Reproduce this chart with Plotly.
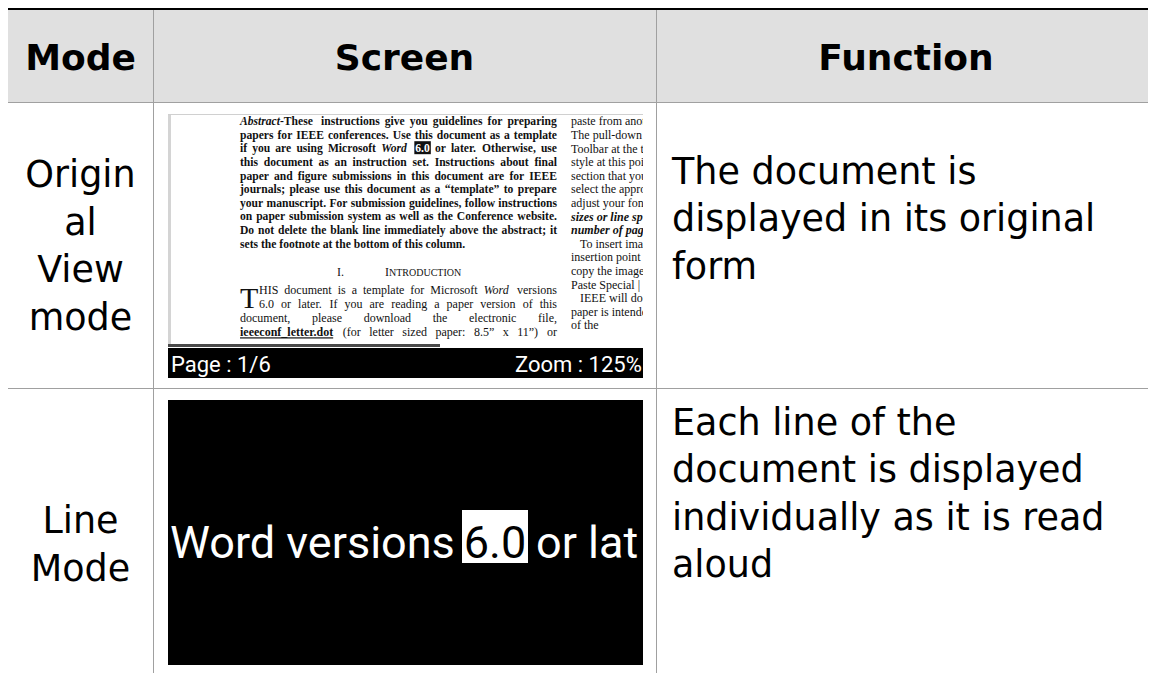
import re
import plotly.graph_objects as go

W, H = 1156, 673
OFF = 8  # page body margin: screen coordinates below are measured from the window corner

# ---------------- table content ----------------
headers = ["Mode", "Screen", "Function"]
mode_cells = [["Origin", "al", "View", "mode"], ["Line", "Mode"]]
function_cells = [
    ["The document is", "displayed in its original", "form"],
    ["Each line of the", "document is displayed", "individually as it is read", "aloud"],
]

# ---------------- screenshot 1 : original view ----------------
abstract_lines = [
    "<i>Abstract</i>-These instructions give you guidelines for preparing",
    "papers for IEEE conferences. Use this document as a template",
    "if you are using Microsoft <i>Word</i> 6.0 or later. Otherwise, use",
    "this document as an instruction set. Instructions about final",
    "paper and figure submissions in this document are for IEEE",
    "journals; please use this document as a \u201ctemplate\u201d to prepare",
    "your manuscript. For submission guidelines, follow instructions",
    "on paper submission system as well as the Conference website.",
    "Do not delete the blank line immediately above the abstract; it",
    "sets the footnote at the bottom of this column.",
]
abstract_highlight = "6.0"
heading_number = "I."
heading_title = ["I", "NTRODUCTION"]
drop_cap = "T"
body_lines = [
    "HIS document is a template for Microsoft <i>Word</i> versions",
    "6.0 or later. If you are reading a paper version of this",
    "document, please download the electronic file,",
    "<b><u>ieeeconf_letter.dot</u></b> (for letter sized paper: 8.5\u201d x 11\u201d) or",
]
# second page column, cut off by the right edge of the screen
col2_lines = [
    "paste from another document, you may",
    "The pull-down style menu is at the left",
    "Toolbar at the top of your Word window",
    "style at this point in the document is",
    "section that you want to designate with",
    "select the appropriate name on the style",
    "adjust your fonts and line spacing. Do",
    "sizes or line spacing to squeeze more",
    "number of pages. Use italics for",
    "To insert images in Word, position",
    "insertion point and either use Insert",
    "copy the image to the Windows clipboard",
    "Paste Special | Picture (with \u201cFloat over",
    "IEEE will do the final formatting",
    "paper is intended for a conference",
    "of the",
]
col2_bold_italic = [False] * 7 + [True, True] + [False] * 7
col2_indented = [False] * 9 + [True, False, False, False, True, False, False]
status_left = "Page : 1/6"
status_right = "Zoom : 125%"

# ---------------- screenshot 2 : line mode (cut off at the screen edge) ----------------
line_mode_parts = ["Word versions", "6.0", "or lat"]

# ================= layout geometry (screen pixels) =================
TABLE_L = 8
COL_X = [8, 153, 656, W + OFF]
HEAD_TOP, HEAD_BOT = 8, 103
ROW_BOT = [389, H + OFF]

PAGE = dict(x0=168, x1=643, y0=114, y1=378)
LM = dict(x0=168, x1=643, y0=400, y1=665)

SANS = "DejaVu Sans, Verdana, sans-serif"
SERIF = "Liberation Serif, Times New Roman, serif"
ROBOTO = "Roboto, sans-serif"


def vy(y, fs):
    """point position that puts the visual middle of a text block at y"""
    return y + 0.11 * fs


# Times metrics (units / 1000)
_UP = "ABCDEFGHIJKLMNOPQRSTUVWXYZ"
_LO = "abcdefghijklmnopqrstuvwxyz"
TR = dict(zip(_UP, [722, 667, 667, 722, 611, 556, 722, 722, 333, 389, 722, 611, 889, 722, 722, 556, 722, 667, 556, 611, 722, 722, 944, 722, 722, 611]))
TR.update(zip(_LO, [444, 500, 444, 500, 444, 333, 500, 500, 278, 278, 500, 278, 778, 500, 500, 500, 500, 333, 389, 278, 500, 500, 722, 500, 500, 444]))
TR.update({" ": 250, ".": 250, ",": 250, ";": 278, ":": 278, "-": 333, "\u201c": 444, "\u201d": 444,
           "(": 333, ")": 333, "_": 500, "|": 200})
TB = dict(zip(_UP, [722, 667, 722, 722, 667, 611, 778, 778, 389, 500, 778, 667, 944, 722, 778, 611, 778, 722, 556, 667, 722, 722, 1000, 722, 722, 667]))
TB.update(zip(_LO, [500, 556, 444, 556, 444, 333, 500, 556, 278, 333, 556, 278, 833, 556, 500, 556, 556, 444, 389, 333, 556, 500, 722, 500, 500, 444]))
TB.update({" ": 250, ".": 250, ",": 250, ";": 333, ":": 333, "-": 333, "\u201c": 500, "\u201d": 500,
           "(": 333, ")": 333, "_": 500, "|": 220})


def split_words(line):
    words, open_tags = [], []
    for raw in line.split(" "):
        prefix = "".join(f"<{t}>" for t in open_tags)
        for m in re.finditer(r"<(/?)(\w+)>", raw):
            if m.group(1):
                if m.group(2) in open_tags:
                    open_tags.remove(m.group(2))
            else:
                open_tags.append(m.group(2))
        suffix = "".join(f"</{t}>" for t in reversed(open_tags))
        words.append(prefix + raw + suffix)
    return words


def word_width(word, fs, base_bold):
    bold, w = base_bold, 0
    for part in re.split(r"(<[^>]+>)", word):
        if part.startswith("<"):
            if part == "<b>":
                bold = True
            elif part == "</b>":
                bold = base_bold
            continue
        tbl = TB if bold else TR
        w += sum(tbl.get(c, 500) for c in part)
    return w * fs / 1000.0


def justify(line, left, right, fs, bold, last=False):
    words = split_words(line)
    widths = [word_width(w, fs, bold) for w in words]
    if last or len(words) == 1:
        gap = (TB if bold else TR)[" "] * fs / 1000.0
    else:
        gap = (right - left - sum(widths)) / (len(words) - 1)
    xs, x = [], left
    for wd in widths:
        xs.append(x)
        x += wd + gap
    return words, xs, widths


def visible_part(text, left, right, fs, bold):
    """keep the characters that reach the screen edge (the rest is hidden)"""
    tbl = TB if bold else TR
    out, x = "", left
    for ch in text:
        if x >= right:
            break
        out += ch
        x += tbl.get(ch, 500) * fs / 1000.0
    return out


fig = go.Figure()
common = dict(mode="text", hoverinfo="skip", showlegend=False)

# ---------- table text ----------
col_centers = [(COL_X[0] + COL_X[1]) / 2, (COL_X[1] + COL_X[2]) / 2, (COL_X[2] + W) / 2]
HEAD_FS, CELL_FS = 36, 36.5
fig.add_trace(go.Scatter(
    x=col_centers, y=[vy(57, HEAD_FS)] * 3, text=[f"<b>{h}</b>" for h in headers],
    textposition="middle center", textfont=dict(family=SANS, size=HEAD_FS, color="#000"),
    cliponaxis=False, **common))

mode_mid = [245.5, 544]
func_mid = [218, 493]
fig.add_trace(go.Scatter(
    x=[col_centers[0]] * 2, y=[vy(m, CELL_FS) for m in mode_mid],
    text=["<br>".join(c) for c in mode_cells], textposition="middle center",
    textfont=dict(family=SANS, size=CELL_FS, color="#000"), cliponaxis=False, **common))
fig.add_trace(go.Scatter(
    x=[COL_X[2] + 16] * 2, y=[vy(m, CELL_FS) for m in func_mid],
    text=["<br>".join(c) for c in function_cells], textposition="middle right",
    textfont=dict(family=SANS, size=CELL_FS, color="#000"), cliponaxis=False, **common))

# ---------- page screenshot text ----------
C1L, C1R, C1IND = 240, 557, 259
C2L, C2IND = 571, 580
ABS_FS, BODY_FS, CAP_FS = 11.6, 12, 30
ABS_Y0, ABS_DY = 121, 13.6

hl_shapes = []
ax_, ay_, at_, acol = [], [], [], []
for i, line in enumerate(abstract_lines):
    words, xs, widths = justify(line, C1L, C1R, ABS_FS, True, last=(i == len(abstract_lines) - 1))
    y = ABS_Y0 + i * ABS_DY
    for w, x, wd in zip(words, xs, widths):
        hl = re.sub(r"<[^>]+>", "", w) == abstract_highlight
        ax_.append(x); ay_.append(vy(y, ABS_FS)); at_.append(w); acol.append("#fff" if hl else "#111")
        if hl:
            hl_shapes.append(dict(type="rect", xref="x2", yref="y2", x0=x - 1, x1=x + wd + 1,
                                  y0=y - 7, y1=y + 6, fillcolor="#111", line=dict(width=0), layer="below"))
fig.add_trace(go.Scatter(x=ax_, y=ay_, text=at_, textposition="middle right",
                         textfont=dict(family=SERIF, size=ABS_FS, color=acol, weight="bold"),
                         xaxis="x2", yaxis="y2", cliponaxis=True, **common))

bx, by, bt = [], [], []
BODY_Y = [290, 304, 318, 332]
for i, line in enumerate(body_lines):
    left = C1IND if i < 2 else C1L
    words, xs, widths = justify(line, left, C1R, BODY_FS, False)
    for w, x in zip(words, xs):
        bx.append(x); by.append(vy(BODY_Y[i], BODY_FS)); bt.append(w)
bx.append(337); by.append(vy(272, BODY_FS)); bt.append(heading_number)
fig.add_trace(go.Scatter(x=bx, y=by, text=bt, textposition="middle right",
                         textfont=dict(family=SERIF, size=BODY_FS, color="#111"),
                         xaxis="x2", yaxis="y2", cliponaxis=True, **common))
w_I = word_width(heading_title[0], BODY_FS, False)
fig.add_trace(go.Scatter(x=[385, 385 + w_I], y=[vy(272, BODY_FS), vy(272.5, 10)], text=heading_title,
                         textposition="middle right",
                         textfont=dict(family=SERIF, size=[BODY_FS, 10], color="#111"),
                         xaxis="x2", yaxis="y2", cliponaxis=True, **common))
fig.add_trace(go.Scatter(x=[240], y=[vy(297, CAP_FS)], text=[drop_cap], textposition="middle right",
                         textfont=dict(family=SERIF, size=CAP_FS, color="#111"),
                         xaxis="x2", yaxis="y2", cliponaxis=True, **common))

cx, cy, ct = [], [], []
for i, line in enumerate(col2_lines):
    left = C2IND if col2_indented[i] else C2L
    part = visible_part(line, left, PAGE["x1"], BODY_FS, col2_bold_italic[i])
    cx.append(left)
    cy.append(vy(ABS_Y0 + i * ABS_DY, BODY_FS))
    ct.append(f"<b><i>{part}</i></b>" if col2_bold_italic[i] else part)
fig.add_trace(go.Scatter(x=cx, y=cy, text=ct, textposition="middle right",
                         textfont=dict(family=SERIF, size=BODY_FS, color="#111"),
                         xaxis="x2", yaxis="y2", cliponaxis=True, **common))

# ---------- line-mode screenshot text ----------
LM_FS = 45
fig.add_trace(go.Scatter(x=[170, 495, 536], y=[vy(542, LM_FS)] * 3, text=line_mode_parts,
                         textposition=["middle right", "middle center", "middle right"],
                         textfont=dict(family=ROBOTO, size=LM_FS, color=["#fff", "#000", "#fff"]),
                         xaxis="x3", yaxis="y3", cliponaxis=True, **common))

# ---------- shapes ----------
GRID = "#a0a0a0"
shapes = [
    dict(type="rect", xref="x", yref="y", x0=TABLE_L, x1=W + OFF, y0=HEAD_TOP, y1=HEAD_BOT,
         fillcolor="#e0e0e0", line=dict(width=0), layer="below"),
    dict(type="rect", xref="x", yref="y", x0=TABLE_L, x1=W + OFF, y0=8, y1=10,
         fillcolor="#000", line=dict(width=0), layer="above"),
    dict(type="line", xref="x", yref="y", x0=TABLE_L, x1=W + OFF, y0=HEAD_BOT - 0.5, y1=HEAD_BOT - 0.5,
         line=dict(color=GRID, width=1), layer="above"),
    dict(type="line", xref="x", yref="y", x0=TABLE_L, x1=W + OFF, y0=ROW_BOT[0] - 0.5, y1=ROW_BOT[0] - 0.5,
         line=dict(color=GRID, width=1), layer="above"),
    dict(type="line", xref="x", yref="y", x0=COL_X[1] + 0.5, x1=COL_X[1] + 0.5, y0=10, y1=H + OFF,
         line=dict(color=GRID, width=1), layer="above"),
    dict(type="line", xref="x", yref="y", x0=COL_X[2] + 0.5, x1=COL_X[2] + 0.5, y0=10, y1=H + OFF,
         line=dict(color=GRID, width=1), layer="above"),
    # page borders
    dict(type="rect", xref="x", yref="y", x0=PAGE["x0"], x1=PAGE["x0"] + 3, y0=PAGE["y0"], y1=344,
         fillcolor="#d4d4d4", line=dict(width=0), layer="above"),
    dict(type="line", xref="x", yref="y", x0=PAGE["x0"], x1=PAGE["x1"], y0=PAGE["y0"] + 0.5, y1=PAGE["y0"] + 0.5,
         line=dict(color="#d0d0d0", width=1), layer="above"),
    # scrollbar and status bar
    dict(type="rect", xref="x", yref="y", x0=PAGE["x0"], x1=440, y0=344, y1=347,
         fillcolor="#4a4a4a", line=dict(width=0), layer="above"),
    dict(type="rect", xref="x", yref="y", x0=PAGE["x0"], x1=PAGE["x1"], y0=348, y1=PAGE["y1"],
         fillcolor="#000", line=dict(width=0), layer="above"),
    # line mode box
    dict(type="rect", xref="x3", yref="y3", x0=LM["x0"], x1=LM["x1"], y0=LM["y0"], y1=LM["y1"],
         fillcolor="#000", line=dict(width=0), layer="below"),
    dict(type="rect", xref="x3", yref="y3", x0=462, x1=528, y0=510, y1=563,
         fillcolor="#fff", line=dict(width=0), layer="below"),
] + hl_shapes

annotations = [
    dict(xref="x", yref="y", x=PAGE["x0"] + 1, y=364, xanchor="left", yanchor="middle",
         text=status_left, showarrow=False, font=dict(family=ROBOTO, size=22, color="#fff")),
    dict(xref="x", yref="y", x=PAGE["x1"] + 1, y=364, xanchor="right", yanchor="middle",
         text=status_right, showarrow=False, font=dict(family=ROBOTO, size=22, color="#fff")),
]


def dx(a, b):
    return [(a - OFF) / W, (b - OFF) / W]


def dy(top, bottom):
    return [(H + OFF - bottom) / H, (H + OFF - top) / H]


hidden = dict(visible=False, fixedrange=True, showgrid=False, zeroline=False)
fig.update_layout(
    width=W, height=H, autosize=False,
    margin=dict(l=0, r=0, t=0, b=0, pad=0),
    paper_bgcolor="#fff", plot_bgcolor="rgba(0,0,0,0)",
    showlegend=False,
    xaxis=dict(range=[OFF, W + OFF], domain=[0, 1], **hidden),
    yaxis=dict(range=[H + OFF, OFF], domain=[0, 1], **hidden),
    xaxis2=dict(range=[PAGE["x0"], PAGE["x1"]], domain=dx(PAGE["x0"], PAGE["x1"]), anchor="y2", **hidden),
    yaxis2=dict(range=[PAGE["y1"], PAGE["y0"]], domain=dy(PAGE["y0"], PAGE["y1"]), anchor="x2", **hidden),
    xaxis3=dict(range=[LM["x0"], LM["x1"]], domain=dx(LM["x0"], LM["x1"]), anchor="y3", **hidden),
    yaxis3=dict(range=[LM["y1"], LM["y0"]], domain=dy(LM["y0"], LM["y1"]), anchor="x3", **hidden),
    shapes=shapes,
    annotations=annotations,
)

fig.write_html("out.html", config=dict(displayModeBar=False, staticPlot=True))
